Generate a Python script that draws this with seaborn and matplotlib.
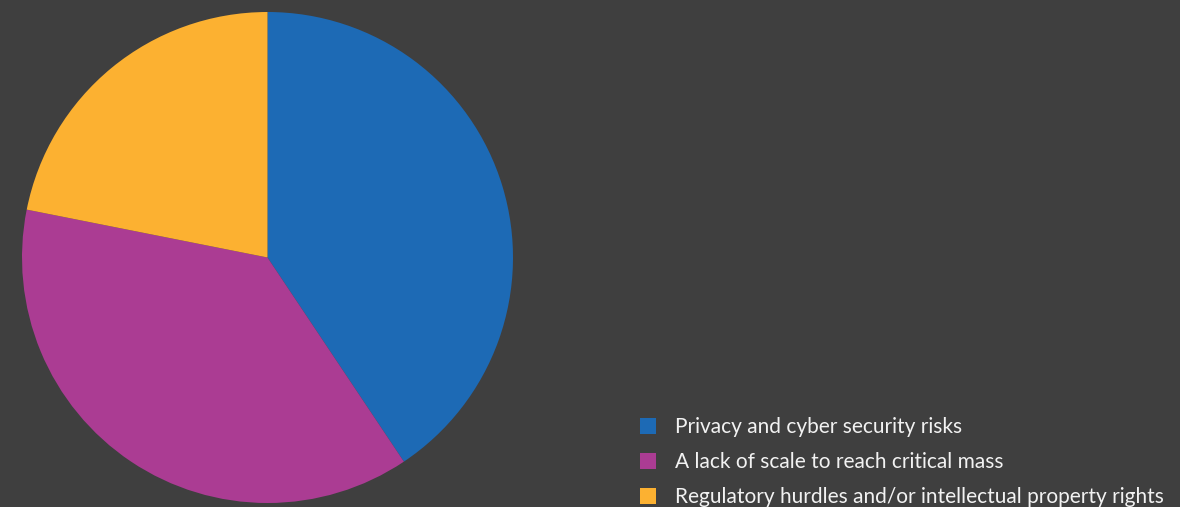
import matplotlib
matplotlib.use("Agg")
import matplotlib.pyplot as plt
import seaborn as sns

categories = [
    "Privacy and cyber security risks",
    "A lack of scale to reach critical mass",
    "Regulatory hurdles and/or intellectual property rights",
]
values = [13, 12, 7]
colors = ["#1D6AB5", "#AB3C93", "#FCB131"]

BG = "#3F3F3F"
sns.set_theme(style="white")
plt.rcParams["font.family"] = ["Lato", "DejaVu Sans"]

fig = plt.figure(figsize=(11.8, 5.07), dpi=100, facecolor=BG)
ax = fig.add_axes([22 / 1180, 4 / 507, 491 / 1180, 491 / 507])
ax.set_facecolor(BG)

wedges, _ = ax.pie(
    values,
    colors=sns.color_palette(colors),
    startangle=90,
    counterclock=False,
    radius=1,
    wedgeprops=dict(linewidth=0),
)
ax.set_xlim(-1, 1)
ax.set_ylim(-1, 1)
ax.set_aspect("equal")
ax.axis("off")

leg = fig.legend(
    wedges,
    categories,
    loc="lower left",
    bbox_to_anchor=(621 / 1180, -19 / 507),
    frameon=False,
    handlelength=0.8,
    handleheight=0.8,
    handletextpad=0.9,
    labelspacing=0.72,
    prop=dict(family=["Lato", "DejaVu Sans"], weight="normal", size=15),
    labelcolor="#F2F2F2",
)

fig.savefig("out.png", dpi=100, facecolor=BG)
